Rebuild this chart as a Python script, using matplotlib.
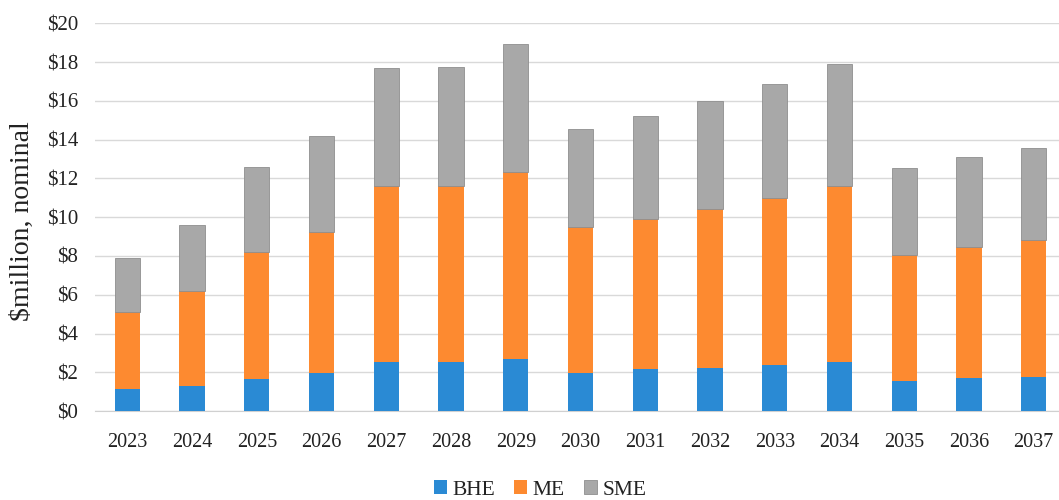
import matplotlib
matplotlib.use("Agg")
import matplotlib.pyplot as plt
import numpy as np

years = [str(y) for y in range(2023, 2038)]
# stacked segments, $ million nominal
bhe = [1.12, 1.29, 1.65, 1.94, 2.51, 2.51, 2.68, 1.98, 2.15, 2.22, 2.37, 2.51, 1.56, 1.72, 1.77]
me = [4.00, 4.92, 6.55, 7.31, 9.10, 9.12, 9.67, 7.50, 7.76, 8.20, 8.62, 9.12, 6.47, 6.76, 7.05]
sme = [2.79, 3.37, 4.37, 4.95, 6.07, 6.10, 6.59, 5.09, 5.29, 5.58, 5.88, 6.26, 4.49, 4.64, 4.73]
yticks = list(range(0, 21, 2))

c_bhe = "#2a8ad4"
c_me = "#fd8a30"
c_sme = "#a8a8a8"

plt.rcParams["font.family"] = ["Liberation Serif", "DejaVu Serif"]

fig = plt.figure(figsize=(10.59, 5.0), dpi=100)
ax = fig.add_axes([0.0897, 0.178, 0.917, 0.775])

x = np.arange(len(years))
w = 0.39
bhe_a = np.array(bhe)
me_a = np.array(me)
sme_a = np.array(sme)
ax.bar(x, bhe_a, w, color=c_bhe, label="BHE", zorder=3)
ax.bar(x, me_a, w, bottom=bhe_a, color=c_me, label="ME", zorder=3)
ax.bar(x, sme_a, w, bottom=bhe_a + me_a, color=c_sme, edgecolor="#8e8e8e",
       linewidth=0.6, label="SME", zorder=3)

ax.set_xlim(-0.5, len(years) - 0.5)
ax.set_ylim(0, 20)
ax.set_yticks(yticks)
ax.set_yticklabels([f"${v}" for v in yticks], fontsize=15, color="#222222")
ax.set_xticks(x)
ax.set_xticklabels(years, fontsize=14.5, color="#222222")
ax.tick_params(axis="both", length=0)
ax.tick_params(axis="x", pad=16)
ax.tick_params(axis="y", pad=12)
ax.grid(axis="y", color="#d9d9d9", linewidth=1.0, zorder=0)
for s in ["top", "right", "left"]:
    ax.spines[s].set_visible(False)
ax.spines["bottom"].set_color("#d0d0d0")
ax.set_ylabel("$million, nominal", fontsize=20, color="#222222")
ax.yaxis.set_label_coords(-0.062, 0.49)

fig.legend(loc="center", bbox_to_anchor=(0.51, 0.02), ncol=3, frameon=False,
           fontsize=15.5, handlelength=0.6, handleheight=0.6, handletextpad=0.25,
           columnspacing=0.9, labelcolor="#222222")

fig.savefig("out.png", dpi=100, facecolor="white")
